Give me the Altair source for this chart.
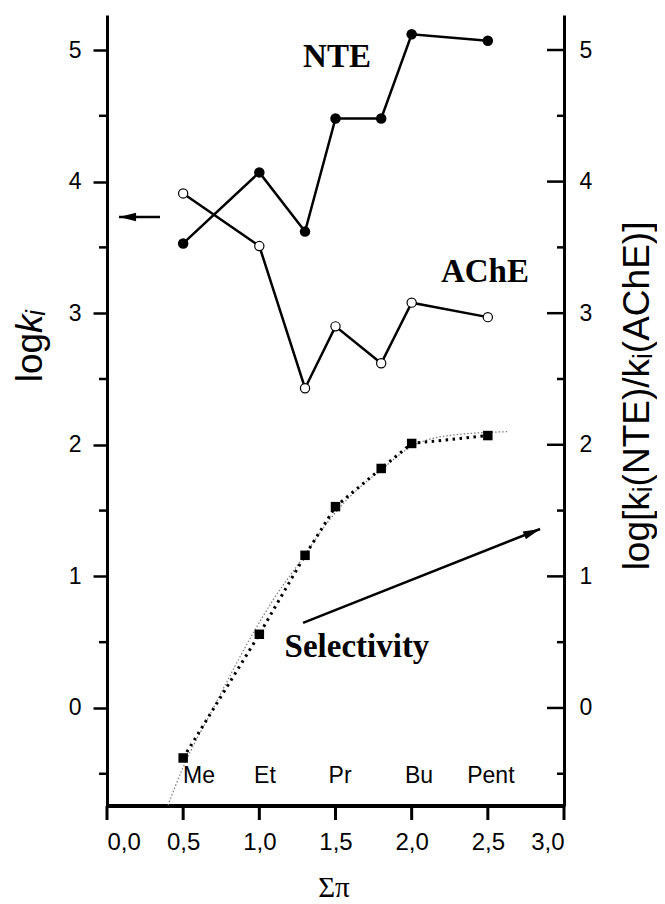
import altair as alt
import pandas as pd

# ---- data ----
sigma_pi = [0.5, 1.0, 1.3, 1.5, 1.8, 2.0, 2.5]
log_ki_nte = [3.53, 4.07, 3.62, 4.48, 4.48, 5.12, 5.07]
log_ki_ache = [3.91, 3.51, 2.43, 2.90, 2.62, 3.08, 2.97]
selectivity = [-0.38, 0.56, 1.16, 1.53, 1.82, 2.01, 2.07]

fit_x = [0.40, 0.50, 0.68, 0.96, 1.09, 1.26, 1.51, 1.82, 1.99, 2.24, 2.64]
fit_y = [-0.74, -0.45, -0.04, 0.57, 0.82, 1.10, 1.50, 1.83, 1.98, 2.07, 2.10]

x_ticks = [0.0, 0.5, 1.0, 1.5, 2.0, 2.5, 3.0]
y_major = [0, 1, 2, 3, 4, 5]
y_minor = [-0.5, 0.5, 1.5, 2.5, 3.5, 4.5]

groups = ["Me", "Et", "Pr", "Bu", "Pent"]
group_x = [0.604, 1.037, 1.53, 2.048, 2.52]
group_y = [-0.57] * 5

series_labels = ["NTE", "AChE", "Selectivity"]
series_label_x = [1.51, 2.481, 1.641]
series_label_y = [4.871, 3.237, 0.388]

arrow_x1 = [0.348, 1.287]
arrow_y1 = [3.731, 0.646]
arrow_x2 = [0.079, 2.843]
arrow_y2 = [3.731, 1.360]
arrow_angle = [180, 338]

W, H = 457, 791
xs = alt.Scale(domain=[0, 3.0], nice=False, zero=False)
ys = alt.Scale(domain=[-0.745, 5.266], nice=False, zero=False)
SANS = "Liberation Sans"
SERIF = "Liberation Serif"

AX_STYLE = dict(grid=False, domainColor="black", domainWidth=3, tickColor="black", tickWidth=2.5,
                labelFont=SANS, labelFontSize=23, labelColor="black")

df = pd.DataFrame({"x": sigma_pi, "nte": log_ki_nte, "ache": log_ki_ache, "sel": selectivity})
fit_df = pd.DataFrame({"x": fit_x, "y": fit_y, "o": list(range(len(fit_x)))})
grp_df = pd.DataFrame({"x": group_x, "y": group_y, "t": groups})
lab_df = pd.DataFrame({"x": series_label_x, "y": series_label_y, "t": series_labels})
arr_df = pd.DataFrame({"x": arrow_x1, "y": arrow_y1, "x2": arrow_x2, "y2": arrow_y2, "a": arrow_angle})
major_df = pd.DataFrame({"v": y_major})
minor_df = pd.DataFrame({"v": y_minor})
xtick_df = pd.DataFrame({"x": x_ticks})

# bottom axis: labels from the axis, line and ticks drawn as rules
XAXIS = alt.Axis(orient="bottom", values=x_ticks, format=".1f", domain=False, ticks=False,
                 labelPadding=24, grid=False, labelFont=SANS, labelFontSize=24, labelColor="black")


def X(field="x"):
    # identical axis spec in every layer so the shared x axis merges cleanly
    return alt.X(f"{field}:Q", scale=xs, title=None, axis=XAXIS)


def Y(field):
    return alt.Y(f"{field}:Q", scale=ys, axis=None)


base = alt.Chart(df)

# axis carrier layers
x_ticks_layer = alt.Chart(xtick_df).mark_rule(color="black", strokeWidth=3).encode(
    x=X(), y=alt.value(H), y2=alt.value(H + 14))
x_domain = alt.Chart(xtick_df).mark_rule(color="black", strokeWidth=3).encode(
    x=alt.value(0), x2=alt.value(W), y=alt.value(H))
left_axis_layer = alt.Chart(major_df).mark_rule(color="black", strokeWidth=2.5, opacity=0).encode(
    y=alt.Y("v:Q", scale=ys, title=None,
            axis=alt.Axis(orient="left", values=y_major, format="d", tickSize=14, labelPadding=12,
                          **AX_STYLE)),
    x=alt.value(-1), x2=alt.value(0),
)
right_major = alt.Chart(major_df).mark_rule(color="black", strokeWidth=2.5).encode(
    y=alt.Y("v:Q", scale=ys, title=None,
            axis=alt.Axis(orient="right", values=y_major, format="d", ticks=False, labelPadding=15,
                          **AX_STYLE)),
    x=alt.value(W - 17), x2=alt.value(W))

nte_line = base.mark_line(color="black", strokeWidth=2.5).encode(x=X(), y=Y("nte"))
nte_pts = base.mark_point(shape="circle", filled=True, color="black", size=110, opacity=1).encode(
    x=X(), y=Y("nte"))
ache_line = base.mark_line(color="black", strokeWidth=2.5).encode(x=X(), y=Y("ache"))
ache_pts = base.mark_point(shape="circle", filled=True, fill="white", stroke="black",
                           strokeWidth=1.2, size=85, opacity=1).encode(x=X(), y=Y("ache"))
sel_line = base.mark_line(color="black", strokeWidth=3, strokeDash=[2.5, 4.5]).encode(
    x=X(), y=Y("sel"))
sel_pts = base.mark_point(shape="square", filled=True, color="black", size=90, opacity=1).encode(
    x=X(), y=Y("sel"))
fit_line = alt.Chart(fit_df).mark_line(color="#7a7a7a", strokeWidth=1.2, strokeDash=[1.5, 2],
                                       interpolate="monotone").encode(
    x=X(), y=Y("y"), order="o:Q")

# left minor ticks (outward) and right minor ticks (inward)
left_minor = alt.Chart(minor_df).mark_rule(color="black", strokeWidth=2.5).encode(
    y=Y("v"), x=alt.value(-8), x2=alt.value(0))
right_minor = alt.Chart(minor_df).mark_rule(color="black", strokeWidth=2.5).encode(
    y=Y("v"), x=alt.value(W - 7), x2=alt.value(W))

# annotations
grp_text = alt.Chart(grp_df).mark_text(font=SANS, fontSize=23, color="black",
                                       align="center", baseline="alphabetic").encode(
    x=X(), y=Y("y"), text="t:N")
lab_text = alt.Chart(lab_df).mark_text(font=SERIF, fontSize=33, fontWeight="bold", color="black",
                                       align="center", baseline="alphabetic").encode(
    x=X(), y=Y("y"), text="t:N")
arr_line = alt.Chart(arr_df).mark_rule(color="black", strokeWidth=2.5).encode(
    x=X(), y=Y("y"), x2="x2:Q", y2="y2:Q")
arr_head = alt.Chart(arr_df).mark_point(shape="M0,0L-2,-0.5L-2,0.5Z", filled=True, color="black",
                                        size=289, opacity=1).encode(
    x=X("x2"), y=Y("y2"), angle=alt.Angle("a:Q", scale=None))

# axis titles as text
title_df = pd.DataFrame({
    "x": [-0.427, -0.427, 3.558, 1.49],
    "y": [2.85, 2.85, 2.371, -1.437],
    "t": ["log", "k\u1d62", "log[k\u1d62(NTE)/k\u1d62(AChE)]", "\u03a3\u03c0"],
})
t_log = alt.Chart(title_df.iloc[[0]]).mark_text(font=SANS, fontSize=37, angle=270, align="right",
                                                baseline="alphabetic", color="black").encode(
    x=X(), y=Y("y"), text="t:N")
t_k = alt.Chart(title_df.iloc[[1]]).mark_text(font=SANS, fontSize=37, angle=270, align="left",
                                              baseline="alphabetic", fontStyle="italic",
                                              color="black").encode(
    x=X(), y=Y("y"), text="t:N")
t_right = alt.Chart(title_df.iloc[[2]]).mark_text(font=SANS, fontSize=37, angle=270, align="center",
                                                  baseline="alphabetic", color="black").encode(
    x=X(), y=Y("y"), text="t:N")
t_bottom = alt.Chart(title_df.iloc[[3]]).mark_text(font=SERIF, fontSize=29, align="center",
                                                   baseline="alphabetic", color="black").encode(
    x=X(), y=Y("y"), text="t:N")

chart = alt.layer(
    x_ticks_layer, x_domain, left_axis_layer, right_major,
    fit_line, sel_line, nte_line, ache_line, nte_pts, ache_pts, sel_pts,
    left_minor, right_minor, grp_text, lab_text, arr_line, arr_head,
    t_log, t_k, t_right, t_bottom,
).properties(
    width=W, height=H,
    autosize=alt.AutoSizeParams(type="none"),
    padding={"left": 99, "top": 7, "right": 93, "bottom": 98},
).configure(
    locale={"number": {"decimal": ",", "thousands": ".", "grouping": [3],
                       "currency": ["", " \u20ac"]}},
).configure_view(stroke=None).configure_axis(**AX_STYLE)

chart.save("out.html", embed_options={"renderer": "svg", "actions": False})
